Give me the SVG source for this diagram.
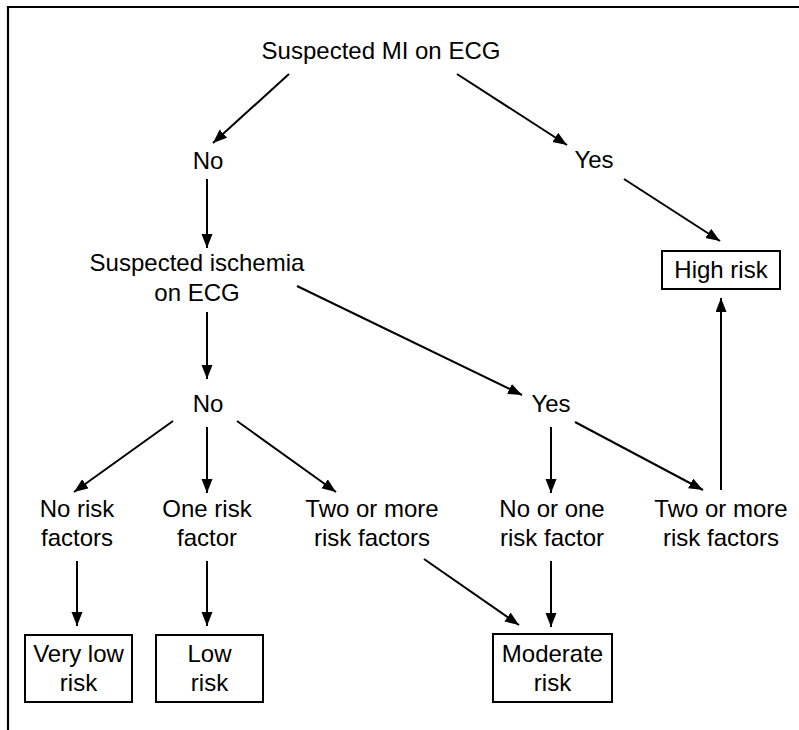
<svg xmlns="http://www.w3.org/2000/svg" width="799" height="730" viewBox="0 0 799 730">
<defs>
<marker id="ah" markerUnits="userSpaceOnUse" markerWidth="15" markerHeight="12" refX="14" refY="5.5" orient="auto">
<path d="M0,0 L14,5.5 L0,11 z" fill="#000"/>
</marker>
<style>
text{font-family:"Liberation Sans",Arial,sans-serif;font-size:24px;fill:#000;text-anchor:middle}
.box{fill:#fff;stroke:#000;stroke-width:2}
#connectors line{stroke:#000;stroke-width:2;marker-end:url(#ah)}
.frame{stroke:#000;stroke-width:2.2;fill:none}
</style>
</defs>
<rect width="799" height="730" fill="#fff"/>
<path class="frame" d="M8,730 L8,7 L799,7"/>
<g id="connectors">
<line x1="289" y1="74" x2="213" y2="143"/>
<line x1="457" y1="74" x2="567" y2="145"/>
<line x1="207" y1="179" x2="207" y2="248"/>
<line x1="624" y1="179" x2="720" y2="241"/>
<line x1="297" y1="286" x2="522" y2="395"/>
<line x1="207" y1="312" x2="207" y2="379"/>
<line x1="173" y1="421" x2="74" y2="492"/>
<line x1="207" y1="427" x2="207" y2="493"/>
<line x1="237" y1="421" x2="336" y2="492"/>
<line x1="551" y1="427" x2="551" y2="493"/>
<line x1="575" y1="422" x2="703" y2="490"/>
<line x1="721" y1="490" x2="721" y2="298"/>
<line x1="77" y1="561" x2="77" y2="626"/>
<line x1="207" y1="561" x2="207" y2="626"/>
<line x1="424" y1="559" x2="519" y2="625"/>
<line x1="551" y1="561" x2="551" y2="627"/>
</g>
<g id="mi"><text x="381" y="59">Suspected MI on ECG</text></g>
<g id="no1"><text x="208" y="169">No</text></g>
<g id="yes1"><text x="594" y="168">Yes</text></g>
<g id="high"><rect class="box" x="662" y="251" width="118" height="38"/><text x="721" y="278">High risk</text></g>
<g id="isch"><text x="197" y="271">Suspected ischemia</text><text x="197" y="301">on ECG</text></g>
<g id="no2"><text x="208" y="412">No</text></g>
<g id="yes2"><text x="551" y="412">Yes</text></g>
<g id="norf"><text x="77" y="517">No risk</text><text x="77" y="546">factors</text></g>
<g id="onerf"><text x="207" y="517">One risk</text><text x="207" y="546">factor</text></g>
<g id="tworf1"><text x="372" y="517">Two or more</text><text x="372" y="546">risk factors</text></g>
<g id="nooner"><text x="552" y="517">No or one</text><text x="552" y="546">risk factor</text></g>
<g id="tworf2"><text x="721" y="517">Two or more</text><text x="721" y="546">risk factors</text></g>
<g id="vlow"><rect class="box" x="25" y="635" width="107" height="67"/><text x="78.5" y="662">Very low</text><text x="78.5" y="691">risk</text></g>
<g id="low"><rect class="box" x="156" y="635" width="107" height="67"/><text x="209.5" y="662">Low</text><text x="209.5" y="691">risk</text></g>
<g id="mod"><rect class="box" x="493" y="634" width="119" height="68"/><text x="552.5" y="662">Moderate</text><text x="552.5" y="691">risk</text></g>
</svg>
